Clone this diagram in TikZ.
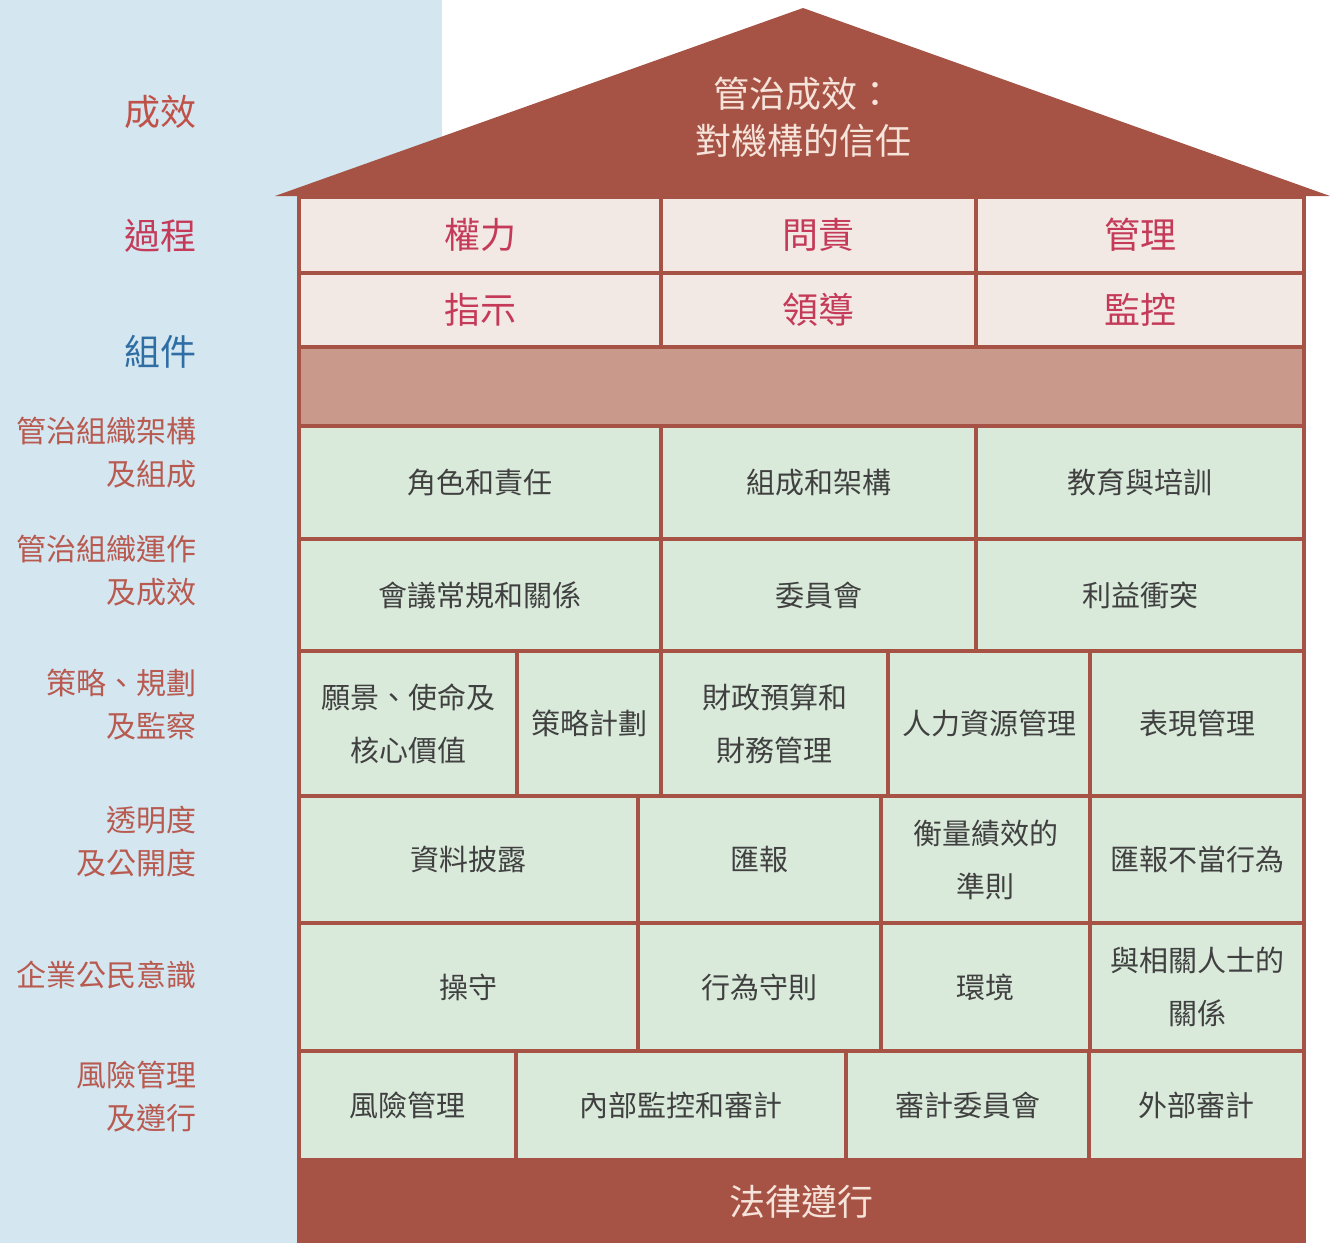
\documentclass[tikz,border=0pt]{standalone}
\usepackage{fontspec}
\setmainfont{Noto Sans CJK TC}

\definecolor{panelblue}{HTML}{D4E6F0}
\definecolor{houseedge}{HTML}{A65345}
\definecolor{toppink}{HTML}{F2E9E5}
\definecolor{bandtan}{HTML}{C99A8C}
\definecolor{cellgreen}{HTML}{D9EADB}
\definecolor{celltext}{HTML}{404040}
\definecolor{procred}{HTML}{C43A58}
\definecolor{labelred}{HTML}{B85A50}
\definecolor{compblue}{HTML}{2F6EA5}
\definecolor{rooftext}{HTML}{F6E3DA}

\tikzset{
    toprow/.style={draw=houseedge, fill=toppink, line width=3.5pt, inner sep=0pt, text=procred, font=\fontsize{36}{40}\selectfont},
    cell/.style={draw=houseedge, fill=cellgreen, line width=3.5pt, inner sep=0pt, align=center, text=celltext, font=\fontsize{29}{53}\selectfont},
    sidelabel/.style={anchor=east, align=right, text=labelred, font=\fontsize{30}{43}\selectfont},
    biglabel/.style={anchor=east, font=\fontsize{36}{40}\selectfont}
}

\begin{document}
\begin{tikzpicture}[x=1pt, y=-1pt]
    \useasboundingbox (0,0) rectangle (1330,1243);

    % left panel
    \fill[panelblue] (0,0) rectangle (442,1243);

    % roof
    \fill[houseedge] (275,196) -- (803,8) -- (1330,196) -- cycle;
    \node[align=center, text=rooftext, font=\fontsize{36}{47}\selectfont] (outcome) at (803,117) {管治成效：\\對機構的信任};

    % processes
    \node[toprow, minimum width=362pt, minimum height=76pt] (power) at (480,235) {權力};
    \node[toprow, minimum width=315pt, minimum height=76pt] (account) at (818.5,235) {問責};
    \node[toprow, minimum width=328pt, minimum height=76pt] (manage) at (1140,235) {管理};
    \node[toprow, minimum width=362pt, minimum height=74pt] (direct) at (480,310) {指示};
    \node[toprow, minimum width=315pt, minimum height=74pt] (lead) at (818.5,310) {領導};
    \node[toprow, minimum width=328pt, minimum height=74pt] (monitor) at (1140,310) {監控};
    \node[draw=houseedge, fill=bandtan, line width=3.5pt, minimum width=1005pt, minimum height=79pt] (band) at (801.5,386.5) {};

    % components
    \node[cell, minimum width=362pt, minimum height=113pt] (role) at (480,482.5) {角色和責任};
    \node[cell, minimum width=315pt, minimum height=113pt] (makeup) at (818.5,482.5) {組成和架構};
    \node[cell, minimum width=328pt, minimum height=113pt] (training) at (1140,482.5) {教育與培訓};

    \node[cell, minimum width=362pt, minimum height=112pt] (meeting) at (480,595) {會議常規和關係};
    \node[cell, minimum width=315pt, minimum height=112pt] (committee) at (818.5,595) {委員會};
    \node[cell, minimum width=328pt, minimum height=112pt] (conflict) at (1140,595) {利益衝突};

    \node[cell, minimum width=218pt, minimum height=145pt] (vision) at (408,723.5) {願景、使命及\\核心價值};
    \node[cell, minimum width=144pt, minimum height=145pt] (stratplan) at (589,723.5) {策略計劃};
    \node[cell, minimum width=227pt, minimum height=145pt] (budget) at (774.5,723.5) {財政預算和\\財務管理};
    \node[cell, minimum width=202pt, minimum height=145pt] (hr) at (989,723.5) {人力資源管理};
    \node[cell, minimum width=214pt, minimum height=145pt] (perf) at (1197,723.5) {表現管理};

    \node[cell, minimum width=339pt, minimum height=127pt] (disclose) at (468.5,859.5) {資料披露};
    \node[cell, minimum width=243pt, minimum height=127pt] (reporting) at (759.5,859.5) {匯報};
    \node[cell, minimum width=209pt, minimum height=127pt] (measure) at (985.5,859.5) {衡量績效的\\準則};
    \node[cell, minimum width=214pt, minimum height=127pt] (whistle) at (1197,859.5) {匯報不當行為};

    \node[cell, minimum width=339pt, minimum height=128pt] (integrity) at (468.5,987) {操守};
    \node[cell, minimum width=243pt, minimum height=128pt] (conduct) at (759.5,987) {行為守則};
    \node[cell, minimum width=209pt, minimum height=128pt] (environ) at (985.5,987) {環境};
    \node[cell, minimum width=214pt, minimum height=128pt] (stakeholder) at (1197,987) {與相關人士的\\關係};

    \node[cell, minimum width=217pt, minimum height=109pt] (riskmgmt) at (407.5,1105.5) {風險管理};
    \node[cell, minimum width=330pt, minimum height=109pt] (intaudit) at (681,1105.5) {內部監控和審計};
    \node[cell, minimum width=243pt, minimum height=109pt] (auditcttee) at (967.5,1105.5) {審計委員會};
    \node[cell, minimum width=215pt, minimum height=109pt] (extaudit) at (1196.5,1105.5) {外部審計};

    % foundation
    \node[fill=houseedge, text=rooftext, font=\fontsize{36}{40}\selectfont, minimum width=1009pt, minimum height=83pt, inner sep=0pt] (law) at (801.5,1201.5) {法律遵行};

    % side labels
    \node[biglabel, text=labelred!90!red] (lbloutcome) at (200,112) {成效};
    \node[biglabel, text=procred] (lblprocess) at (200,236) {過程};
    \node[biglabel, text=compblue] (lblcomp) at (200,352) {組件};
    \node[sidelabel] (lblstruct) at (200,453) {管治組織架構\\及組成};
    \node[sidelabel] (lbloper) at (200,571) {管治組織運作\\及成效};
    \node[sidelabel] (lblstrat) at (200,705) {策略、規劃\\及監察};
    \node[sidelabel] (lbltrans) at (200,842) {透明度\\及公開度};
    \node[sidelabel] (lblcitizen) at (200,975) {企業公民意識};
    \node[sidelabel] (lblrisk) at (200,1097) {風險管理\\及遵行};
\end{tikzpicture}
\end{document}
